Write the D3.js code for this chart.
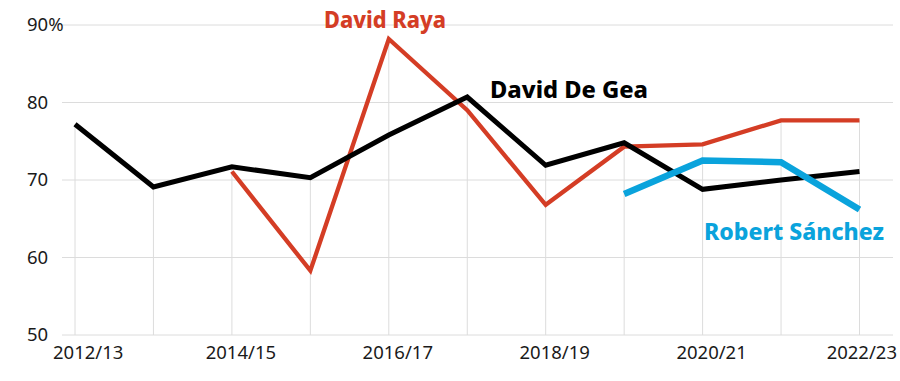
<!DOCTYPE html>
<html>
<head>
<meta charset="utf-8">
<script src="https://cdn.jsdelivr.net/npm/d3@7"></script>
<style>
  html, body { margin: 0; padding: 0; background: #fff; }
  svg { display: block; font-family: "Noto Sans", sans-serif; }
</style>
</head>
<body>
<svg id="chart" width="900" height="381"></svg>
<script>
const seasons = ["2012/13","2013/14","2014/15","2015/16","2016/17","2017/18","2018/19","2019/20","2020/21","2021/22","2022/23"];
const xTickLabels = ["2012/13","2014/15","2016/17","2018/19","2020/21","2022/23"];
const yTicks = [50, 60, 70, 80, 90];

const deGea   = [77.2, 69.1, 71.7, 70.3, 75.8, 80.7, 71.9, 74.8, 68.8, 70.0, 71.1];
const raya    = [null, null, 71.1, 58.3, 88.2, 79.0, 66.8, 74.3, 74.6, 77.7, 77.7];
const sanchez = [null, null, null, null, null, null, null, 68.2, 72.5, 72.3, 66.2];

const seriesNames = ["David De Gea", "David Raya", "Robert Sánchez"];
const seriesColors = ["#000000", "#d43d25", "#0aa3dc"];

const svg = d3.select("#chart");

const x = d3.scalePoint().domain(seasons).range([75, 859.5]);
const y = d3.scaleLinear().domain([50, 90]).range([335, 25]);

const allSeries = [deGea, raya, sanchez];

// horizontal grid
svg.append("g").selectAll("line").data(yTicks).join("line")
  .attr("x1", 62).attr("x2", 893)
  .attr("y1", d => y(d)).attr("y2", d => y(d))
  .attr("stroke", "#dcdcdc").attr("stroke-width", 1);

// vertical drop lines up to the highest value of each season
svg.append("g").selectAll("line").data(seasons).join("line")
  .attr("x1", d => x(d)).attr("x2", d => x(d))
  .attr("y1", y(50))
  .attr("y2", (d, i) => y(d3.max(allSeries, s => s[i])))
  .attr("stroke", "#dcdcdc").attr("stroke-width", 1);

// y labels
svg.append("g").selectAll("text").data(yTicks).join("text")
  .attr("x", 27).attr("y", d => y(d))
  .attr("dy", "0.35em")
  .attr("font-size", 18.5).attr("fill", "#1a1a1a")
  .text(d => d === 90 ? d + "%" : d);

// x labels
svg.append("g").selectAll("text").data(xTickLabels).join("text")
  .attr("y", 359)
  .attr("text-anchor", "middle")
  .attr("font-size", 18.5).attr("fill", "#1a1a1a")
  .text(d => d)
  .attr("x", function(d) {
    const w = this.getComputedTextLength();
    return Math.max(53 + w / 2, Math.min(x(d) + 9, 897 - w / 2));
  });

const line = d3.line()
  .defined(d => d.v != null)
  .x(d => x(d.s)).y(d => y(d.v));

const widths = [5, 4.3, 6.5];
const order = [1, 0, 2];
order.forEach(i => {
  const data = seasons.map((s, j) => ({ s, v: allSeries[i][j] }));
  svg.append("path").datum(data)
    .attr("d", line)
    .attr("fill", "none")
    .attr("stroke", seriesColors[i])
    .attr("stroke-width", widths[i])
    .attr("stroke-linejoin", "miter");
});

// labels
const labelPos = [[490, 98], [324, 28], [704, 240]];
const labelLen = [158, 122, 180];
seriesNames.forEach((n, i) => {
  svg.append("text")
    .attr("x", labelPos[i][0]).attr("y", labelPos[i][1])
    .attr("font-size", 23).attr("font-weight", 800)
    .attr("fill", seriesColors[i])
    .attr("textLength", labelLen[i])
    .attr("lengthAdjust", "spacingAndGlyphs")
    .text(n);
});
</script>
</body>
</html>
